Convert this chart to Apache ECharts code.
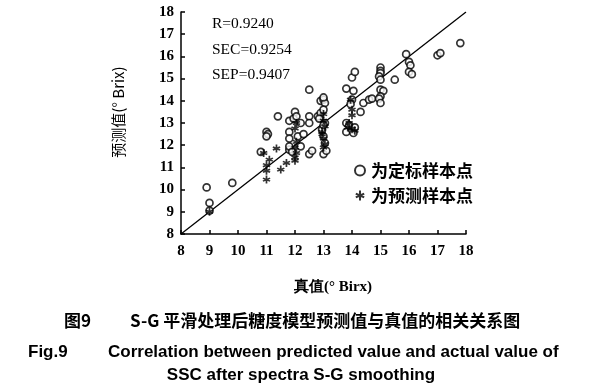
<!DOCTYPE html>
<html><head><meta charset="utf-8">
<script src="https://cdn.jsdelivr.net/npm/echarts@6/dist/echarts.min.js"></script>
<style>html,body{margin:0;padding:0;background:#fff}#c{width:599px;height:386px}</style>
</head><body><div id="c"></div>
<script>
// Calibration samples (open circles): [actual, predicted]
var calibration = [
[8.9,10.1],[9.0,9.4],[9.0,9.05],[9.8,10.3],[10.8,11.7],
[11.0,12.6],[11.05,12.5],[11.0,12.4],[11.4,13.3],
[11.8,13.1],[11.95,13.2],[12.0,13.5],[12.05,13.3],[11.8,12.6],[11.8,12.3],[12.1,12.4],[11.8,11.8],
[12.2,13.0],[12.3,12.5],[12.2,11.95],[11.8,11.95],[11.9,11.7],
[12.5,13.3],[12.5,13.0],[12.5,11.6],[12.6,11.75],[12.5,14.5],
[12.8,13.3],[12.9,13.45],[12.85,13.2],[12.9,14.0],[13.0,14.05],[13.05,13.9],[13.0,14.15],
[13.0,13.6],[13.05,13.0],[12.95,12.7],[13.0,12.4],[13.05,12.1],[13.0,11.6],[13.1,11.75],[13.0,12.9],
[13.8,14.55],[14.0,15.05],[14.1,15.3],[14.05,14.45],[13.8,13.0],[13.8,12.6],[14.0,12.7],[14.05,12.55],[13.9,12.9],[14.1,12.8],
[14.3,13.5],[14.4,13.9],[14.6,14.05],[14.7,14.1],[14.0,14.05],[13.95,13.85],
[15.0,15.5],[15.0,15.35],[15.0,15.25],[14.95,15.1],[15.0,14.95],[15.0,14.5],[15.1,14.45],[15.0,14.2],[14.95,14.1],[15.0,13.9],
[15.5,14.95],[15.9,16.1],[16.0,15.75],[16.05,15.6],[16.0,15.3],[16.1,15.2],
[17.0,16.05],[17.1,16.15],[17.8,16.6]
];
// Prediction samples (asterisks): [actual, predicted]
var prediction = [
[9.0,9.0],[10.9,11.65],[11.1,11.35],[11.0,11.1],[11.0,10.85],[11.0,10.45],[11.35,11.85],[11.5,10.9],[11.7,11.2],
[12.0,12.75],[12.05,12.15],[12.0,11.9],[12.05,11.65],[12.0,11.45],[12.0,11.3],[12.05,13.0],
[13.0,13.4],[13.0,13.1],[13.05,12.85],[12.95,12.6],[13.0,12.3],[13.05,12.05],[13.0,11.9],[12.95,12.5],
[13.95,14.05],[14.0,13.6],[14.0,13.35],[13.9,13.0],[14.0,12.75],[14.1,12.65],[13.85,12.8]
];
var fitLine = [[8,8],[18,18]];
var axisMin = 8, axisMax = 18, axisStep = 1;
var statsText = ['R=0.9240','SEC=0.9254','SEP=0.9407'];
var seriesNames = ['为定标样本点','为预测样本点'];

// six-armed asterisk (three crossing bars, half-width 0.2)
var star = 'path://M40,0L60,0L60,100L40,100Z M86.7,22.2L96.7,39.5L13.3,77.8L3.3,60.5Z M96.7,60.5L86.7,77.8L3.3,39.5L13.3,22.2Z';

var chart = echarts.init(document.getElementById('c'));
var serif = '"Liberation Serif","Times New Roman",serif';
var cjk = '"Noto Sans CJK SC",sans-serif';
var sans = '"Liberation Sans",Arial,sans-serif';
chart.setOption({
  backgroundColor:'#fff',
  animation:false,
  grid:{left:181,right:133,top:12,bottom:152},
  xAxis:{type:'value',min:axisMin,max:axisMax,interval:axisStep,
    axisLine:{lineStyle:{color:'#000',width:1.5}},
    axisTick:{inside:true,length:4,lineStyle:{color:'#000',width:1.5}},
    axisLabel:{color:'#000',fontFamily:serif,fontWeight:'bold',fontSize:15,margin:10},
    splitLine:{show:false}},
  yAxis:{type:'value',min:axisMin,max:axisMax,interval:axisStep,
    axisLine:{show:true,lineStyle:{color:'#000',width:1.5}},
    axisTick:{show:true,inside:true,length:4,lineStyle:{color:'#000',width:1.5}},
    axisLabel:{color:'#000',fontFamily:serif,fontWeight:'bold',fontSize:15,margin:7},
    splitLine:{show:false}},
  legend:{orient:'vertical',left:349,top:157,itemGap:8,itemWidth:12,itemHeight:10,
    data:[{name:seriesNames[0],icon:'circle'},{name:seriesNames[1],icon:star}],
    textStyle:{color:'#000',fontFamily:cjk,fontSize:17,fontWeight:'bold'}},
  series:[
    {type:'line',data:fitLine,symbol:'none',silent:true,lineStyle:{color:'#000',width:1.3},z:1},
    {name:seriesNames[0],type:'scatter',data:calibration,symbol:'circle',symbolSize:7,
      itemStyle:{color:'#fff',borderColor:'#000',borderWidth:1.7},z:3},
    {name:seriesNames[1],type:'scatter',data:prediction,symbol:star,symbolSize:8,
      itemStyle:{color:'#000'},z:4}
  ],
  graphic:[
    {type:'text',left:212,top:16,style:{text:statsText[0],font:'15.5px '+serif,fill:'#000'}},
    {type:'text',left:212,top:42,style:{text:statsText[1],font:'15.5px '+serif,fill:'#000'}},
    {type:'text',left:212,top:67,style:{text:statsText[2],font:'15.5px '+serif,fill:'#000'}},
    {type:'text',x:118,y:112,rotation:Math.PI/2,style:{text:'预测值(° Brix)',font:'15px '+cjk,fill:'#000',align:'center',verticalAlign:'middle'}},
    {type:'text',x:333,y:287,style:{text:'真值(° Birx)',font:'bold 15px '+serif,fill:'#000',align:'center',verticalAlign:'middle'}},
    {type:'text',x:64,y:321,style:{text:'图9',font:'bold 17px '+cjk,fill:'#000',verticalAlign:'middle'}},
    {type:'text',x:130,y:321,style:{text:'S-G 平滑处理后糖度模型预测值与真值的相关关系图',font:'bold 17px '+cjk,fill:'#000',verticalAlign:'middle'}},
    {type:'text',x:28,y:352,style:{text:'Fig.9',font:'bold 17px '+sans,fill:'#000',verticalAlign:'middle'}},
    {type:'text',x:108,y:352,style:{text:'Correlation between predicted value and actual value of',font:'bold 17px '+sans,fill:'#000',verticalAlign:'middle'}},
    {type:'text',x:301,y:375,style:{text:'SSC after spectra S-G smoothing',font:'bold 17px '+sans,fill:'#000',align:'center',verticalAlign:'middle'}}
  ]
});
</script></body></html>
